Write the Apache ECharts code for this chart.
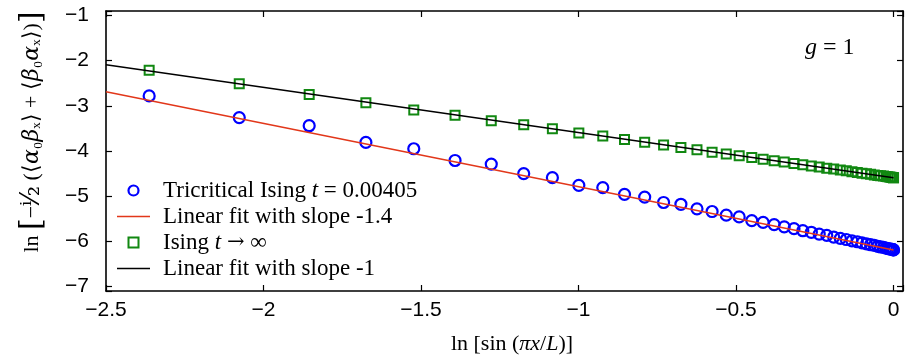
<!DOCTYPE html>
<html>
<head>
<meta charset="utf-8">
<script src="https://cdn.jsdelivr.net/npm/echarts@6/dist/echarts.min.js"></script>
<style>
  html, body { margin: 0; padding: 0; background: #fff; }
  #chart { width: 906px; height: 359px; }
</style>
</head>
<body>
<div id="chart"></div>
<script>
const xVals = [
  -2.363, -2.077, -1.855, -1.675, -1.523, -1.392, -1.277, -1.174, -1.083, -0.999,
  -0.923, -0.854, -0.790, -0.730, -0.675, -0.624, -0.576, -0.531, -0.490, -0.450,
  -0.414, -0.379, -0.347, -0.316, -0.288, -0.261, -0.236, -0.212, -0.190, -0.169,
  -0.150, -0.132, -0.115, -0.100, -0.086, -0.073, -0.061, -0.050, -0.041, -0.032,
  -0.024, -0.018, -0.012, -0.008, -0.004, -0.002, -0.0005, 0
]
// Tricritical Ising t = 0.00405 (blue circles)
const tricritical = [
  -2.78, -3.26, -3.44, -3.81, -3.95, -4.21, -4.29, -4.50, -4.59, -4.76,
  -4.81, -4.96, -5.02, -5.14, -5.18, -5.28, -5.34, -5.42, -5.46, -5.54,
  -5.58, -5.63, -5.68, -5.72, -5.765, -5.80, -5.84, -5.87, -5.905, -5.935,
  -5.96, -5.99, -6.01, -6.035, -6.055, -6.075, -6.09, -6.11, -6.125, -6.135,
  -6.15, -6.16, -6.165, -6.175, -6.18, -6.185, -6.19, -6.19
]
// Ising t -> infinity (green squares)
const ising = [
  -2.21, -2.51, -2.75, -2.93, -3.09, -3.21, -3.33, -3.42, -3.51, -3.60,
  -3.67, -3.745, -3.805, -3.865, -3.92, -3.975, -4.025, -4.065, -4.105, -4.145,
  -4.18, -4.215, -4.245, -4.275, -4.305, -4.33, -4.355, -4.38, -4.40, -4.42,
  -4.44, -4.46, -4.475, -4.49, -4.505, -4.515, -4.53, -4.54, -4.55, -4.555,
  -4.565, -4.57, -4.575, -4.58, -4.585, -4.585, -4.59, -4.59
]
// linear fits, drawn across the whole x range
const fitX = [-2.5, 0]
const fitSlope14 = [-2.69, -6.19]
const fitSlope1 = [-2.09, -4.59]

const names = [
  'Tricritical Ising t = 0.00405',
  'Linear fit with slope -1.4',
  'Ising t → ∞',
  'Linear fit with slope -1'
]

const BLUE = '#0000ff'
const RED = '#e2371a'
const GREEN = '#118811'

const zip = (xs, ys) => xs.map((x, i) => [x, ys[i]])
const minus = (s) => String(s).replace('-', '\u2212')

const chart = echarts.init(document.getElementById('chart'))

const axisLine = { show: true, onZero: false, lineStyle: { color: '#000', width: 1.6 } }
const axisTick = { show: true, inside: true, length: 6, lineStyle: { color: '#000', width: 1.2 } }
const tickFont = { color: '#000', fontSize: 21, fontFamily: 'Liberation Sans, Arial, sans-serif' }
const lineIcon = 'path://M0,0L44,0L44,2L0,2Z'
const squareIcon = 'path://M0,0L10,0L10,10L0,10Z'

const option = {
  backgroundColor: '#fff',
  animation: false,
  grid: { left: 106, right: 0, top: 11, bottom: 68 },
  legend: {
    left: 117,
    top: 179,
    orient: 'vertical',
    padding: 0,
    itemWidth: 33,
    itemHeight: 10,
    itemGap: 3,
    selectedMode: false,
    data: [
      { name: names[0], icon: 'circle', itemStyle: { color: 'rgba(255,255,255,0)', borderColor: BLUE, borderWidth: 2.2 } },
      { name: names[1], icon: lineIcon, itemStyle: { color: RED, borderWidth: 0 } },
      { name: names[2], icon: squareIcon, itemStyle: { color: 'rgba(255,255,255,0)', borderColor: GREEN, borderWidth: 2 } },
      { name: names[3], icon: lineIcon, itemStyle: { color: '#000', borderWidth: 0 } }
    ],
    formatter: (name) => {
      if (name === names[0]) return 'Tricritical Ising {i|t} = 0.00405'
      if (name === names[2]) return 'Ising {i|t} {a|\u2192} \u221e'
      return name
    },
    textStyle: {
      color: '#000',
      fontSize: 23,
      lineHeight: 23,
      fontFamily: 'Liberation Serif, Times New Roman, serif',
      padding: [0, 0, 0, 8],
      rich: {
        i: { fontSize: 23, lineHeight: 23, fontStyle: 'italic', fontFamily: 'Liberation Serif, serif', color: '#000' },
        a: { fontSize: 21, lineHeight: 23, fontFamily: 'DejaVu Serif, serif', color: '#000' }
      }
    }
  },
  xAxis: [
    {
      type: 'value', min: -2.5, max: 0.03, position: 'bottom',
      axisLine, axisTick, splitLine: { show: false },
      axisLabel: {
        ...tickFont, margin: 9,
        formatter: (v) => Math.abs(v * 2 - Math.round(v * 2)) < 1e-6 ? minus(v) : ''
      }
    },
    {
      type: 'value', min: -2.5, max: 0.03, position: 'top',
      axisLine, axisTick, splitLine: { show: false }, axisLabel: { show: false }
    }
  ],
  yAxis: [
    {
      type: 'value', min: -7.1, max: -0.9, position: 'left',
      axisLine, axisTick, splitLine: { show: false },
      axisLabel: {
        ...tickFont, margin: 17,
        formatter: (v) => Math.abs(v - Math.round(v)) < 1e-6 ? minus(v) : ''
      }
    },
    {
      type: 'value', min: -7.1, max: -0.9, position: 'right',
      axisLine, axisTick, splitLine: { show: false }, axisLabel: { show: false }
    }
  ],
  series: [
    {
      name: names[0],
      type: 'scatter',
      symbol: 'circle',
      symbolSize: 11,
      itemStyle: { color: 'rgba(255,255,255,0)', borderColor: BLUE, borderWidth: 2.2, opacity: 1 },
      data: zip(xVals, tricritical),
      z: 2
    },
    {
      name: names[1],
      type: 'line',
      symbol: 'none',
      itemStyle: { color: RED },
      lineStyle: { color: RED, width: 1.5 },
      data: zip(fitX, fitSlope14),
      z: 4
    },
    {
      name: names[2],
      type: 'scatter',
      symbol: 'rect',
      symbolSize: 9,
      itemStyle: { color: 'rgba(255,255,255,0)', borderColor: GREEN, borderWidth: 2, opacity: 1 },
      data: zip(xVals, ising),
      z: 3
    },
    {
      name: names[3],
      type: 'line',
      symbol: 'none',
      itemStyle: { color: '#000' },
      lineStyle: { color: '#000', width: 1.5 },
      data: zip(fitX, fitSlope1),
      z: 5
    }
  ],
  graphic: [
    {
      type: 'text',
      left: 805,
      top: 36,
      style: {
        text: '{i|g} = 1',
        fill: '#000',
        font: '24px Liberation Serif, serif',
        rich: { i: { fontStyle: 'italic', fontSize: 24, fontFamily: 'Liberation Serif, serif' } }
      }
    },
    {
      type: 'text',
      x: 512,
      y: 344,
      style: {
        text: 'ln [sin ({i|πx}/{i|L})]',
        fill: '#000',
        align: 'center',
        verticalAlign: 'middle',
        font: '22px Liberation Serif, serif',
        rich: {
          i: { fontStyle: 'italic', fontSize: 22, fontFamily: 'Liberation Serif, serif' }
        }
      }
    },
    {
      type: 'text',
      x: 32,
      y: 132,
      rotation: Math.PI / 2,
      style: {
        text: 'ln {b|[}\u2212{f|ⁱ⁄₂} (⟨{i|α}₀{i|β}ₓ⟩ + ⟨{i|β}₀{i|α}ₓ⟩){b|]}',
        fill: '#000',
        align: 'center',
        verticalAlign: 'middle',
        font: '22px Liberation Serif, serif',
        rich: {
          b: { fontSize: 30, fontFamily: 'DejaVu Serif, serif' },
          f: { fontSize: 26, fontFamily: 'DejaVu Serif, serif' },
          i: { fontStyle: 'italic', fontSize: 22, fontFamily: 'DejaVu Serif, serif' }
        }
      }
    }
  ]
}

chart.setOption(option)
</script>
</body>
</html>
